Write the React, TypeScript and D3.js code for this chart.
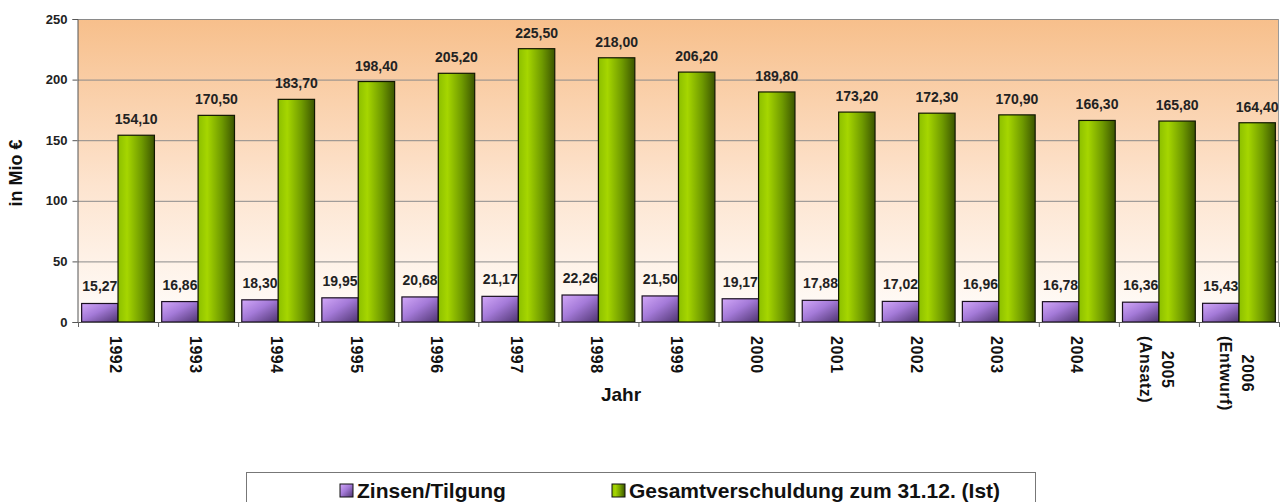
import React, { useRef, useEffect } from 'react';
import * as d3 from 'd3';

const years = [
  '1992', '1993', '1994', '1995', '1996', '1997', '1998', '1999',
  '2000', '2001', '2002', '2003', '2004', '2005\n(Ansatz)', '2006\n(Entwurf)',
];
const zinsen = [15.27, 16.86, 18.3, 19.95, 20.68, 21.17, 22.26, 21.5, 19.17, 17.88, 17.02, 16.96, 16.78, 16.36, 15.43];
const gesamt = [154.1, 170.5, 183.7, 198.4, 205.2, 225.5, 218.0, 206.2, 189.8, 173.2, 172.3, 170.9, 166.3, 165.8, 164.4];
const yTicks = [0, 50, 100, 150, 200, 250];
const seriesNames = ['Zinsen/Tilgung', 'Gesamtverschuldung zum 31.12. (Ist)'];

const width = 1281;
const height = 502;
const margin = { top: 19, right: 2, bottom: 180, left: 78 };
const font = '"Liberation Sans", Arial, Helvetica, sans-serif';

const fmt = (v: number) => d3.format('.2f')(v).replace('.', ',');

const App: React.FC = () => {
  const ref = useRef<SVGSVGElement>(null);

  useEffect(() => {
    const svg = d3.select(ref.current);
    svg.selectAll('*').remove();

    const x = d3
      .scaleBand()
      .domain(years)
      .range([margin.left, width - margin.right]);

    const inner = d3
      .scaleBand()
      .domain(['z', 'g'])
      .range([0, x.bandwidth()])
      .paddingOuter(0.1);

    const y = d3
      .scaleLinear()
      .domain([0, 250])
      .range([height - margin.bottom, margin.top]);

    const defs = svg.append('defs');
    const bg = defs.append('linearGradient').attr('id', 'bg').attr('x1', 0).attr('y1', 0).attr('x2', 0).attr('y2', 1);
    bg.append('stop').attr('offset', '0%').attr('stop-color', '#f7bf8b');
    bg.append('stop').attr('offset', '55%').attr('stop-color', '#fde4cf');
    bg.append('stop').attr('offset', '100%').attr('stop-color', '#fffdfb');

    const pg = defs.append('linearGradient').attr('id', 'purple').attr('x1', 0).attr('y1', 0).attr('x2', 1).attr('y2', 1);
    pg.append('stop').attr('offset', '0%').attr('stop-color', '#d2a8f8');
    pg.append('stop').attr('offset', '45%').attr('stop-color', '#a47ad8');
    pg.append('stop').attr('offset', '100%').attr('stop-color', '#4e3470');

    const gg = defs.append('linearGradient').attr('id', 'green').attr('x1', 0).attr('y1', 0).attr('x2', 1).attr('y2', 0);
    gg.append('stop').attr('offset', '0%').attr('stop-color', '#8cbf00');
    gg.append('stop').attr('offset', '25%').attr('stop-color', '#a6d600');
    gg.append('stop').attr('offset', '65%').attr('stop-color', '#6f9a00');
    gg.append('stop').attr('offset', '100%').attr('stop-color', '#3b5500');

    // plot area
    svg
      .append('rect')
      .attr('x', margin.left)
      .attr('y', margin.top)
      .attr('width', width - margin.right - margin.left)
      .attr('height', y(0) - margin.top)
      .attr('fill', 'url(#bg)');

    // gridlines
    svg
      .append('g')
      .selectAll('line')
      .data(yTicks.filter((d) => d > 0))
      .join('line')
      .attr('x1', margin.left)
      .attr('x2', width - margin.right)
      .attr('y1', (d) => y(d) + 0.5)
      .attr('y2', (d) => y(d) + 0.5)
      .attr('stroke', '#8a8a8a')
      .attr('stroke-width', 1);

    // right border
    svg
      .append('line')
      .attr('x1', width - margin.right - 0.5)
      .attr('x2', width - margin.right - 0.5)
      .attr('y1', y(250))
      .attr('y2', y(0))
      .attr('stroke', '#9a9a9a');

    // bars
    const groups = svg
      .append('g')
      .selectAll('g')
      .data(years)
      .join('g')
      .attr('transform', (d) => `translate(${x(d)},0)`);

    groups
      .append('rect')
      .attr('x', inner('z') ?? 0)
      .attr('y', (d, i) => y(zinsen[i]))
      .attr('width', inner.bandwidth())
      .attr('height', (d, i) => y(0) - y(zinsen[i]))
      .attr('fill', 'url(#purple)')
      .attr('stroke', '#1a1020')
      .attr('stroke-width', 1.2);

    groups
      .append('rect')
      .attr('x', inner('g') ?? 0)
      .attr('y', (d, i) => y(gesamt[i]))
      .attr('width', inner.bandwidth())
      .attr('height', (d, i) => y(0) - y(gesamt[i]))
      .attr('fill', 'url(#green)')
      .attr('stroke', '#111800')
      .attr('stroke-width', 1.2);

    // value labels
    const labelStyle = (sel: any) =>
      sel
        .attr('text-anchor', 'middle')
        .attr('font-family', font)
        .attr('font-weight', 'bold')
        .attr('font-size', 14)
        .attr('fill', '#222');

    groups
      .append('text')
      .attr('x', (inner('z') ?? 0) + inner.bandwidth() / 2)
      .attr('y', (d, i) => y(zinsen[i]) - 12)
      .text((d, i) => fmt(zinsen[i]))
      .call(labelStyle);

    groups
      .append('text')
      .attr('x', (inner('g') ?? 0) + inner.bandwidth() / 2)
      .attr('y', (d, i) => y(gesamt[i]) - 11)
      .text((d, i) => fmt(gesamt[i]))
      .call(labelStyle);

    // y axis
    const yAxis = svg
      .append('g')
      .attr('transform', `translate(${margin.left - 0.5},0)`)
      .call(d3.axisLeft(y).tickValues(yTicks).tickSize(5).tickPadding(5));
    yAxis.select('.domain').attr('stroke', '#555');
    yAxis.selectAll('.tick line').attr('stroke', '#555');
    yAxis
      .selectAll('.tick text')
      .attr('font-family', font)
      .attr('font-weight', 'bold')
      .attr('font-size', 13)
      .attr('fill', '#222');

    // x axis
    svg
      .append('line')
      .attr('x1', margin.left)
      .attr('x2', width - margin.right)
      .attr('y1', y(0) + 0.5)
      .attr('y2', y(0) + 0.5)
      .attr('stroke', '#555');

    svg
      .append('g')
      .selectAll('line')
      .data(years.concat(['end']))
      .join('line')
      .attr('x1', (d, i) => margin.left + i * x.step() + 0.5)
      .attr('x2', (d, i) => margin.left + i * x.step() + 0.5)
      .attr('y1', y(0))
      .attr('y2', y(0) + 5)
      .attr('stroke', '#666');

    // rotated year labels
    const lineH = 22;
    years.forEach((yr) => {
      const lines = yr.split('\n');
      const cx = (x(yr) ?? 0) + x.bandwidth() / 2 - 2;
      const t = svg
        .append('text')
        .attr('font-family', font)
        .attr('font-weight', 'bold')
        .attr('font-size', 16)
        .attr('letter-spacing', 0.5)
        .attr('fill', '#111')
        .attr('text-anchor', 'middle');
      lines.forEach((ln, j) => {
        t.append('tspan')
          .attr('x', 0)
          .attr('y', 0)
          .attr('dy', `${0.35 + ((j - (lines.length - 1) / 2) * lineH) / 16}em`)
          .text(ln);
      });
      const maxLen = d3.max(t.selectAll<SVGTSpanElement, unknown>('tspan').nodes(), (n) => n.getComputedTextLength()) ?? 0;
      t.attr('transform', `translate(${cx},${336 + maxLen / 2}) rotate(90)`);
    });

    // axis titles
    svg
      .append('text')
      .attr('x', 621)
      .attr('y', 401)
      .attr('text-anchor', 'middle')
      .attr('font-family', font)
      .attr('font-weight', 'bold')
      .attr('font-size', 19)
      .attr('fill', '#111')
      .text('Jahr');

    svg
      .append('text')
      .attr('transform', `translate(22,173) rotate(-90)`)
      .attr('text-anchor', 'middle')
      .attr('font-family', font)
      .attr('font-weight', 'bold')
      .attr('font-size', 18)
      .attr('fill', '#111')
      .text('in Mio €');

    // legend
    svg
      .append('rect')
      .attr('x', 246.5)
      .attr('y', 472.5)
      .attr('width', 789)
      .attr('height', 40)
      .attr('fill', '#fff')
      .attr('stroke', '#777');

    const legendX = [340, 612];
    const fills = ['url(#purple)', 'url(#green)'];
    const lg = svg
      .append('g')
      .selectAll('g')
      .data(seriesNames)
      .join('g')
      .attr('transform', (d, i) => `translate(${legendX[i]},0)`);
    lg.append('rect')
      .attr('x', 0)
      .attr('y', 484)
      .attr('width', 13)
      .attr('height', 13)
      .attr('fill', (d, i) => fills[i])
      .attr('stroke', '#111');
    lg.append('text')
      .attr('x', 17)
      .attr('y', 498)
      .attr('font-family', font)
      .attr('font-weight', 'bold')
      .attr('font-size', 21)
      .attr('fill', '#111')
      .text((d) => d);
  }, []);

  return (
    <svg
      ref={ref}
      width={width}
      height={height}
      style={{ position: 'absolute', left: 0, top: 0, background: '#fff' }}
    />
  );
};

export default App;
